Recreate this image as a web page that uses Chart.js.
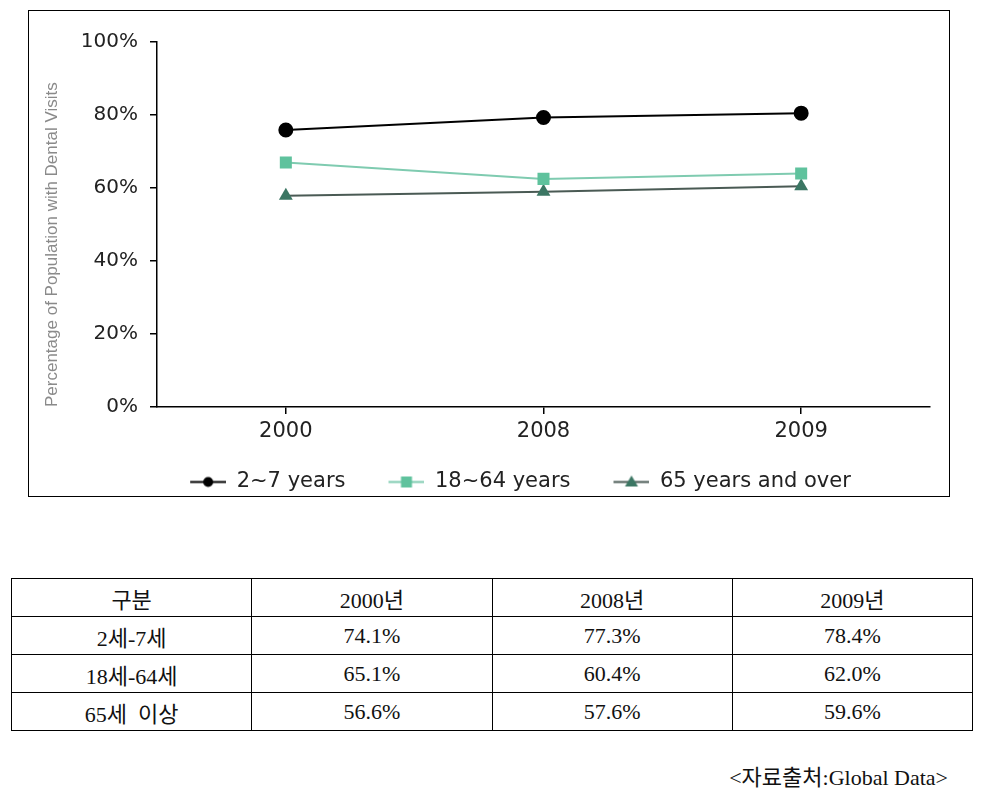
<!DOCTYPE html>
<html>
<head>
<meta charset="utf-8">
<script src="https://cdn.jsdelivr.net/npm/chart.js@4"></script>
<style>
  html, body { margin: 0; padding: 0; background: #fff; overflow: hidden; }
  #frame { position: absolute; left: 28px; top: 10px; width: 920px; height: 485px; border: 1px solid #000; }
  #chart { position: absolute; left: 0; top: 0; }
  table { position: absolute; left: 11px; top: 578px; width: 962px; border-collapse: collapse;
          font-family: "Liberation Serif", "DejaVu Serif", "Noto Sans CJK KR", serif; font-size: 22px; color: #111; }
  td { border: 1px solid #000; height: 37px; width: 25%; text-align: center; padding: 0; white-space: pre; }
  #source { position: absolute; right: 39px; top: 759px; font-family: "Liberation Serif", "Noto Sans CJK KR", serif;
            font-size: 22px; color: #111; }
</style>
</head>
<body>
<div id="frame"></div>
<canvas id="chart" width="987" height="520"></canvas>
<table id="table"></table>
<div id="source">&lt;자료출처:Global Data&gt;</div>
<script>
// values
const categories = ["2000", "2008", "2009"];
const children = [75.9, 79.3, 80.5];
const adults = [67.0, 62.5, 64.0];
const seniors = [57.9, 59.0, 60.5];
const seriesNames = ["2~7 years", "18~64 years", "65 years and over"];
const yTicks = [0, 20, 40, 60, 80, 100];

// values printed in the table under the chart
const tableHead = ["구분", "2000년", "2008년", "2009년"];
const tableRows = ["2세-7세", "18세-64세", "65세  이상"];
const tableValues = [
  [74.1, 77.3, 78.4],
  [65.1, 60.4, 62.0],
  [56.6, 57.6, 59.6],
];

const tickFont = { family: "DejaVu Sans", size: 20 };

// legend icon: short line with the marker on it (blank on the left spaces the items)
function legendIcon(fill, stroke, shape) {
  const c = document.createElement("canvas");
  c.width = 69;
  c.height = 21;
  const g = c.getContext("2d");
  g.strokeStyle = stroke;
  g.lineWidth = 2;
  g.beginPath();
  g.moveTo(33, 10.5);
  g.lineTo(69, 10.5);
  g.stroke();
  g.fillStyle = fill;
  g.beginPath();
  if (shape === "circle") {
    g.arc(51, 10.5, 5, 0, Math.PI * 2);
  } else if (shape === "rect") {
    g.rect(45.5, 5, 11, 11);
  } else {
    g.moveTo(51, 4);
    g.lineTo(57.5, 15);
    g.lineTo(44.5, 15);
    g.closePath();
  }
  g.fill();
  return c;
}

const icons = [
  legendIcon("#000", "#000", "circle"),
  legendIcon("#5fc29d", "#7fcbb0", "rect"),
  legendIcon("#3b7663", "#4a5a54", "triangle"),
];

new Chart(document.getElementById("chart"), {
  type: "line",
  data: {
    labels: categories,
    datasets: [
      {
        label: seriesNames[0],
        data: children,
        borderColor: "#000",
        backgroundColor: "#000",
        borderWidth: 2,
        pointStyle: "circle",
        pointRadius: 6.5,
      },
      {
        label: seriesNames[1],
        data: adults,
        borderColor: "#7fcbb0",
        backgroundColor: "#5fc29d",
        borderWidth: 2,
        pointStyle: "rect",
        pointRadius: 8.5,
        pointBorderWidth: 0,
      },
      {
        label: seriesNames[2],
        data: seniors,
        borderColor: "#4a5a54",
        backgroundColor: "#3b7663",
        borderWidth: 2,
        pointStyle: "triangle",
        pointRadius: 8,
        pointBorderWidth: 0,
      },
    ],
  },
  options: {
    responsive: false,
    animation: false,
    devicePixelRatio: 1,
    layout: { padding: { left: 78, right: 57, top: 42, bottom: 17.5 } },
    plugins: {
      tooltip: { enabled: false },
      legend: {
        position: "bottom",
        labels: {
          usePointStyle: true,
          pointStyleWidth: 69,
          padding: 10,
          color: "#222",
          font: { family: "DejaVu Sans", size: 21 },
          generateLabels: (chart) =>
            Chart.defaults.plugins.legend.labels.generateLabels(chart).map((item, i) => ({
              ...item,
              pointStyle: icons[i],
            })),
        },
      },
    },
    scales: {
      x: {
        offset: true,
        afterFit: (scale) => { scale.height = 54.5; },
        border: { color: "#000", width: 1.5 },
        grid: { drawOnChartArea: false, tickLength: 7, color: "#000", lineWidth: 1.5 },
        ticks: { color: "#222", padding: 5, font: { family: "DejaVu Sans", size: 21 } },
      },
      y: {
        min: 0,
        max: 100,
        afterFit: (scale) => { scale.width = 79; },
        afterBuildTicks: (scale) => { scale.ticks = yTicks.map((v) => ({ value: v })); },
        border: { color: "#000", width: 1.5 },
        grid: { drawOnChartArea: false, tickLength: 7, color: "#000", lineWidth: 1.5 },
        ticks: { color: "#222", padding: 12, font: tickFont, callback: (v) => v + "%" },
        title: {
          display: true,
          text: "Percentage of Population with Dental Visits",
          align: "start",
          color: "#8a8a8a",
          font: { family: "Liberation Sans", size: 17 },
          // pulled left of the axis box
          padding: { top: -36, bottom: 0 },
        },
      },
    },
  },
});

// table
const table = document.getElementById("table");
const head = table.insertRow();
tableHead.forEach((t) => { head.insertCell().textContent = t; });
tableRows.forEach((name, r) => {
  const row = table.insertRow();
  row.insertCell().textContent = name;
  tableValues[r].forEach((v) => { row.insertCell().textContent = v.toFixed(1) + "%"; });
});
</script>
</body>
</html>
